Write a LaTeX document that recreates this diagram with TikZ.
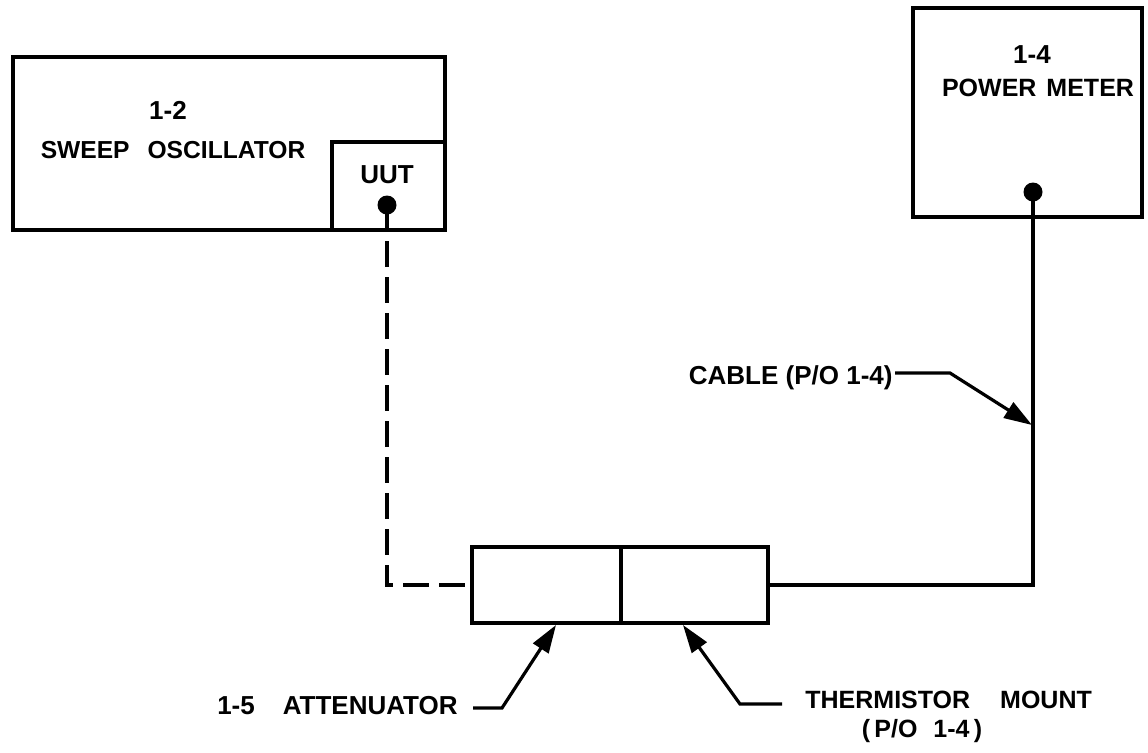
\documentclass[tikz,border=0pt]{standalone}
\usepackage{fontspec}
\setmainfont{Liberation Sans}
\usetikzlibrary{arrows.meta,fit}
\begin{document}
\begin{tikzpicture}[x=0.5pt,y=-0.5pt,
  box/.style={draw,line width=1.7pt,inner sep=0pt},
  lbl/.style={inner sep=0pt,font=\fontsize{12.5}{14}\selectfont\bfseries},
  wire/.style={line width=1.6pt},
  dashwire/.style={line width=1.6pt,dash pattern=on 13pt off 5pt},
  pointer/.style={line width=1.6pt,-{Triangle[length=14pt,width=9pt]}},
  jack/.style={circle,fill,inner sep=0pt,minimum size=9.5pt}]
\useasboundingbox (0,0) rectangle (1148,752);

% boxes
\node[box,fit={(13,57) (445,230)}] (osc) {};
\node[box,fit={(332,142) (445,230)}] (uut) {};
\node[box,fit={(913,8) (1142,217)}] (pm) {};
\node[box,fit={(472,547) (621,623)}] (att) {};
\node[box,fit={(621,547) (768,623)}] (therm) {};

% jacks
\node[jack] (uutdot) at (387,205) {};
\node[jack] (pmdot) at (1033,192) {};

% box labels
\node[lbl,font=\fontsize{13}{14}\selectfont\bfseries] (l12) at (168,110) {1-2};
\node[lbl,font=\fontsize{12.3}{14}\selectfont\bfseries] (lsweep) at (173,150) {SWEEP\hspace{9pt}OSCILLATOR};
\node[lbl,font=\fontsize{13}{14}\selectfont\bfseries] (luut) at (387,175) {UUT};
\node[lbl,font=\fontsize{13}{14}\selectfont\bfseries] (l14) at (1032,55) {1-4};
\node[lbl] (lpm) at (1038,88) {POWER\hspace{5pt}METER};

% connections
\draw[dashwire] (uutdot.center) |- (att.west);
\draw[wire] (pmdot.center) |- (therm.east);

% callouts
\node[lbl,font=\fontsize{13}{14}\selectfont\bfseries,anchor=east] (lcable) at (893,378) {CABLE (P/O 1-4)};
\coordinate (cbend) at (950,373);
\coordinate (ctip) at (1032,425);
\draw[pointer] (lcable.east |- cbend) ++(2,0) -- (cbend) -- (ctip);

\node[lbl,font=\fontsize{13}{14}\selectfont\bfseries,anchor=east] (latt) at (458,706) {1-5\hspace{14pt}ATTENUATOR};
\coordinate (abend) at (502,708);
\coordinate (atip) at (556,625);
\draw[pointer] (473,708) -- (abend) -- (atip);

\node[lbl,anchor=west] (lth) at (805,700) {THERMISTOR\hspace{15pt}MOUNT};
\node[lbl] (lth2) at (922,731) {(\,P/O\hspace{8pt}1-4\,)};
\coordinate (tbend) at (740,704);
\coordinate (ttip) at (683,625);
\draw[pointer] (782,704) -- (tbend) -- (ttip);
\end{tikzpicture}
\end{document}
